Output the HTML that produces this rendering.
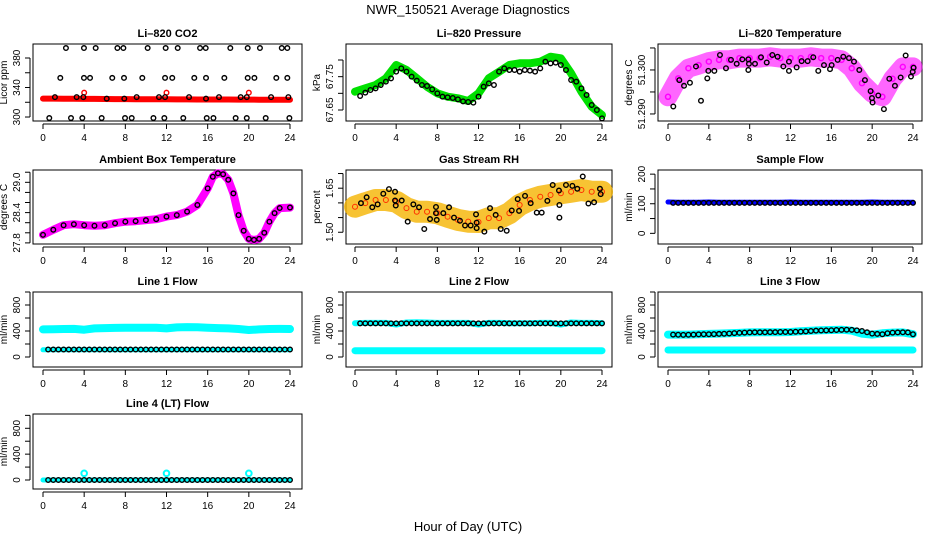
<!DOCTYPE html>
<html><head><meta charset="utf-8"><style>
html,body{margin:0;padding:0;background:#fff;}
svg{display:block;font-family:"Liberation Sans",Arial,sans-serif;}
</style></head><body>
<svg id="chart" width="936" height="540" viewBox="0 0 936 540" xmlns="http://www.w3.org/2000/svg">
<text x="468" y="14" text-anchor="middle" font-size="13">NWR_150521  Average Diagnostics</text>
<text x="468" y="531" text-anchor="middle" font-size="13">Hour of Day (UTC)</text>
</svg>
<script>
// ---------- data ----------
const xTicks = [0,4,8,12,16,20,24];
const hours25 = [0,1,2,3,4,5,6,7,8,9,10,11,12,13,14,15,16,17,18,19,20,21,22,23,24];
const halfHours = [0.5,1,1.5,2,2.5,3,3.5,4,4.5,5,5.5,6,6.5,7,7.5,8,8.5,9,9.5,10,10.5,11,11.5,12,12.5,13,13.5,14,14.5,15,15.5,16,16.5,17,17.5,18,18.5,19,19.5,20,20.5,21,21.5,22,22.5,23,23.5,24];

// CO2
const co2RedValues = [325,325,324.8,324.7,324.6,324.5,324.4,324.3,324.3,324.2,324.1,324,324,323.9,323.9,323.8,323.8,323.7,323.7,323.6,323.6,323.5,323.5,323.4,323.4];
const co2RedOutHours = [4,12,20];
const co2RedOutValues = [333,333,333];
const co2BlackHours = [2.23,3.98,5.12,7.23,7.81,10.17,11.92,13.09,15.26,15.81,18.2,19.89,21.08,23.2,23.74,
 1.68,3.98,4.57,6.73,7.87,9.65,11.86,12.56,14.7,15.84,17.62,19.89,20.54,22.67,23.74,
 1.16,3.27,3.92,6.19,7.9,9.1,11.27,11.86,14.19,15.84,17.1,19.21,19.8,22.16,23.84,
 0.61,2.72,3.82,5.7,7.97,8.62,10.73,11.79,13.63,15.91,16.56,18.72,19.8,21.64,23.94];
const co2BlackValues = [393.5,393.5,393.5,393.5,393.5,393.5,393.5,393.5,393.5,393.5,393.5,393.5,393.5,393.5,393.5,
 353,353,353,353,353,353,353,353,353,353,353,353,353,353,353,
 327,327,327,325,325,327,327,327,327,325,327,327,327,327,327,
 298.6,298.6,298.6,298.6,298.6,298.6,298.6,298.6,298.6,298.6,298.6,298.6,298.6,298.6,298.6];

// Pressure
const presGreenValues = [67.705,67.715,67.725,67.745,67.785,67.77,67.745,67.72,67.70,67.69,67.685,67.677,67.70,67.745,67.765,67.785,67.79,67.79,67.795,67.81,67.805,67.76,67.705,67.66,67.635];
const presBlackHours = [0.5,1,1.5,2,2.5,3,3.5,4,4.5,5,5.5,6,6.5,7,7.5,8,8.5,9,9.5,10,10.5,11,11.5,12,12.5,13,13.5,14,14.5,15,15.5,16,16.5,17,17.5,18,18.5,19,19.5,20,20.5,21,21.5,22,22.5,23,23.5,24];
const presBlackValues = [67.692,67.702,67.71,67.715,67.725,67.735,67.745,67.765,67.775,67.765,67.75,67.738,67.725,67.722,67.712,67.70,67.69,67.688,67.686,67.682,67.676,67.674,67.672,67.69,67.72,67.73,67.725,67.765,67.775,67.77,67.77,67.765,67.77,67.768,67.765,67.775,67.795,67.79,67.792,67.785,67.77,67.74,67.735,67.715,67.695,67.665,67.65,67.625];

// Li-820 temperature
const tempBandValues = [51.2939,51.2981,51.3004,51.3011,51.3019,51.3023,51.3023,51.3027,51.3027,51.3027,51.303,51.3027,51.3027,51.3027,51.303,51.3027,51.3027,51.3023,51.3004,51.297,51.2947,51.2939,51.298,51.3007,51.3007];
const tempBlackHours = [0.52,1.11,1.57,2.15,2.74,3.23,3.85,3.95,4.54,5.09,5.68,6.17,6.73,7.28,7.87,7.87,7.93,8.52,9.11,9.67,10.22,10.74,11.3,11.85,11.85,12.6,13.09,13.68,14.23,14.72,15.28,15.87,16.03,16.62,17.17,17.73,18.22,18.74,19.29,19.85,19.98,20.04,20.6,21.15,21.68,22.23,22.79,23.28,23.8,23.97,24.06];
const tempBlackValues = [51.2917,51.2977,51.2964,51.2971,51.3008,51.2930,51.2981,51.2998,51.2998,51.3034,51.3004,51.3023,51.3014,51.3024,51.3024,51.3000,51.3014,51.3014,51.3029,51.3017,51.3034,51.3030,51.3008,51.3019,51.2998,51.3006,51.3020,51.3020,51.3029,51.2998,51.3011,51.3002,51.3011,51.3023,51.3030,51.3027,51.3019,51.3000,51.2977,51.2952,51.2936,51.2926,51.2942,51.2911,51.2980,51.2964,51.2983,51.3033,51.2985,51.2996,51.3005];

// Ambient box temperature
const ambHours = [0,1,2,3,4,5,6,7,8,9,10,11,12,13,14,15,16,16.5,17,17.5,18,18.5,19,19.5,20,20.5,21,21.5,22,22.5,23,24];
const ambValues = [27.96,28.06,28.15,28.17,28.15,28.14,28.15,28.19,28.22,28.23,28.25,28.27,28.32,28.35,28.42,28.55,28.88,29.11,29.18,29.16,29.05,28.78,28.35,28.04,27.88,27.86,27.88,28.0,28.22,28.39,28.49,28.50];

// Gas stream RH
const rhBandValues = [1.587,1.599,1.61,1.61,1.604,1.582,1.57,1.57,1.565,1.553,1.542,1.536,1.535,1.548,1.548,1.565,1.593,1.61,1.621,1.627,1.633,1.638,1.644,1.638,1.638];
const rhBlackHours = [0.58,1.13,1.68,2.2,2.75,3.3,3.89,3.89,3.96,4.54,5.12,5.67,6.22,6.73,7.29,7.87,7.87,7.94,8.58,9.14,9.62,10.2,10.69,11.24,11.76,11.82,11.82,12.57,13.12,13.67,14.16,14.74,15.23,15.81,15.94,16.52,17.07,17.66,18.14,18.69,19.21,19.82,19.86,19.86,20.5,21.12,21.6,22.13,22.68,23.23,23.8,23.87];
const rhBlackValues = [1.599,1.619,1.585,1.595,1.631,1.647,1.638,1.608,1.591,1.608,1.536,1.595,1.585,1.511,1.545,1.586,1.565,1.542,1.565,1.585,1.55,1.539,1.523,1.523,1.561,1.533,1.514,1.502,1.582,1.559,1.511,1.505,1.574,1.613,1.573,1.624,1.599,1.567,1.567,1.607,1.661,1.642,1.593,1.55,1.661,1.658,1.648,1.69,1.598,1.602,1.648,1.63];

// Sample flow
const sampleBlueValues = [106,105,105,105,106,105,105,105,105,105,105,105,106,105,105,105,105,105,105,105,106,105,105,105,105];
const sampleBlackValues = [103,103,103,103,103,103,103,103,103,103,103,103,103,103,103,103,103,103,103,103,103,103,103,103,103,103,103,103,103,103,103,103,103,103,103,103,103,103,103,103,103,103,103,103,103,103,103,103];

// Line 1 flow
const line1CyanHiValues = [425,428,430,432,420,440,445,448,450,450,450,450,440,455,460,458,450,445,440,430,415,425,430,432,430];
const line1CyanLoValues = [110,110,110,110,110,110,110,110,110,110,110,110,110,110,110,110,110,110,110,110,110,110,110,110,110];
const line1BlackValues = [115,115,115,115,115,115,115,115,115,115,115,115,115,115,115,115,115,115,115,115,115,115,115,115,115,115,115,115,115,115,115,115,115,115,115,115,115,115,115,115,115,115,115,115,115,115,115,115];

// Line 2 flow
const line2CyanHiValues = [520,525,525,525,500,530,535,530,525,525,525,525,500,525,525,520,520,520,525,525,500,530,525,525,522];
const line2CyanLoValues = [97,97,97,97,97,97,97,97,97,97,97,97,97,97,97,97,97,97,97,97,97,97,97,97,97];
const line2BlackValues = [518,518,518,518,518,518,518,518,518,518,518,518,518,518,518,518,518,518,518,518,518,518,518,518,518,518,518,518,518,518,518,518,518,518,518,518,518,518,518,518,518,518,518,518,518,518,518,518];

// Line 3 flow
const line3CyanHiValues = [345,345,345,350,355,360,365,370,378,380,380,380,385,395,405,410,415,420,405,360,345,365,375,378,350];
const line3CyanLoValues = [108,108,108,108,108,108,108,108,108,108,108,108,108,108,108,108,108,108,108,108,108,108,108,108,108];
const line3BlackValues = [345,342,340,342,345,348,350,350,352,355,358,362,368,372,375,378,380,380,380,382,382,385,385,385,388,390,395,400,405,408,410,412,415,418,420,418,410,400,380,360,355,350,365,375,378,380,378,350];

// Line 4 flow
const line4CyanValues = [0,0,0,0,0,0,0,0,0,0,0,0,0,0,0,0,0,0,0,0,0,0,0,0,0];
const line4CyanOutHours = [4,12,20];
const line4CyanOutValues = [103,103,103];
const line4BlackValues = [0,0,0,0,0,0,0,0,0,0,0,0,0,0,0,0,0,0,0,0,0,0,0,0,0,0,0,0,0,0,0,0,0,0,0,0,0,0,0,0,0,0,0,0,0,0,0,0];

// ---------- drawing ----------
const NS = "http://www.w3.org/2000/svg";
const svg = document.getElementById('chart');
const COLS = [{l:33,r:302,x0:43,x24:290},{l:346,r:612,x0:355,x24:602},{l:658,r:922,x0:668,x24:913}];
const ROWS = [{t:44,b:121},{t:170,b:244},{t:292,b:367},{t:414,b:489}];

function mk(tag, attrs, parent){
  const e = document.createElementNS(NS, tag);
  for (const k in attrs) e.setAttribute(k, attrs[k]);
  (parent||svg).appendChild(e);
  return e;
}

function panel(cfg){
  const c = COLS[cfg.col], r = ROWS[cfg.row];
  const g = mk('g', {});
  
  
  const xs = t => c.x0 + t * (c.x24 - c.x0) / 24;
  const ys = v => r.b - (v - cfg.ymin) / (cfg.ymax - cfg.ymin) * (r.b - r.t);
  const title = mk('text', {x:(c.l+c.r)/2, y:r.t-7, 'text-anchor':'middle', 'font-size':11, 'font-weight':'bold'}, g);
  title.textContent = cfg.title;
  
  
  const box = mk('rect', {x:c.l, y:r.t, width:c.r-c.l, height:r.b-r.t, fill:'none', stroke:'#000', 'stroke-width':1}, g);
  
  
  const xg = mk('g', {}, g);
  
  
  mk('line', {x1:xs(0), x2:xs(24), y1:r.b+3, y2:r.b+3, stroke:'#000'}, xg);
  xTicks.forEach(t => {
    mk('line', {x1:xs(t), x2:xs(t), y1:r.b+3, y2:r.b+8, stroke:'#000'}, xg);
    const tx = mk('text', {x:xs(t), y:r.b+20, 'text-anchor':'middle', 'font-size':10}, xg);
    tx.textContent = t;
  });
  const yg = mk('g', {}, g);
  
  
  mk('line', {x1:c.l-3, x2:c.l-3, y1:ys(cfg.yticks[0]), y2:ys(cfg.yticks[cfg.yticks.length-1]), stroke:'#000'}, yg);
  cfg.yticks.forEach(v => mk('line', {x1:c.l-8, x2:c.l-3, y1:ys(v), y2:ys(v), stroke:'#000'}, yg));
  cfg.ylabels.forEach(v => {
    const lx = c.l - 13, ly = ys(v);
    const tx = mk('text', {x:lx, y:ly, 'text-anchor':'middle', 'font-size':10, transform:`rotate(-90 ${lx} ${ly})`}, yg);
    tx.textContent = cfg.fmt ? cfg.fmt(v) : v;
  });
  const yt = mk('text', {x:c.l-26, y:(r.t+r.b)/2, 'text-anchor':'middle', 'font-size':10, transform:`rotate(-90 ${c.l-26} ${(r.t+r.b)/2})`}, g);
  yt.textContent = cfg.ylab;
  
  
  return {g, xs, ys};
}

function band(p, hrs, vals, color, width, name, opacity){
  const pts = hrs.map((t,i) => p.xs(t).toFixed(1)+','+p.ys(vals[i]).toFixed(1)).join(' ');
  const pl = mk('polyline', {points:pts, fill:'none', stroke:color, 'stroke-width':width, 'stroke-linejoin':'round', 'stroke-linecap':'round', opacity:opacity||1}, p.g);
  
  
}
function dots(p, hrs, vals, color, name, rad, sw){
  const gg = mk('g', {}, p.g);
  
  
  hrs.forEach((t,i) => {
    mk('circle', {cx:p.xs(t), cy:p.ys(vals[i]), r:rad||2.3, fill:'none', stroke:color, 'stroke-width':sw||1.4}, gg);
  });
}

let p;
p = panel({col:0,row:0,name:'co2',title:'Li\u2013820 CO2',ylab:'Licor ppm',ymin:294.6,ymax:399,yticks:[300,320,340,360,380],ylabels:[300,340,380]});
band(p, hours25, co2RedValues, '#ff0000', 6, 'co2-red-series');
dots(p, co2RedOutHours, co2RedOutValues, '#ff0000', 'co2-red-outliers');
dots(p, co2BlackHours, co2BlackValues, '#000', 'co2-black-series');

p = panel({col:1,row:0,name:'pressure',title:'Li\u2013820 Pressure',ylab:'kPa',ymin:67.617,ymax:67.848,yticks:[67.65,67.70,67.75,67.80],ylabels:[67.65,67.75],fmt:v=>v.toFixed(2)});
band(p, hours25, presGreenValues, '#00e000', 8, 'pressure-green-series');
dots(p, presBlackHours, presBlackValues, '#000', 'pressure-black-series');

p = panel({col:2,row:0,name:'temperature',title:'Li\u2013820 Temperature',ylab:'degrees C',ymin:51.2884,ymax:51.3059,yticks:[51.290,51.295,51.300,51.305],ylabels:[51.290,51.300],fmt:v=>v.toFixed(3)});
band(p, hours25, tempBandValues, '#ff00ff', 19, 'temperature-magenta-series', 0.6);
dots(p, hours25, tempBandValues, '#ff00ff', 'temperature-magenta-points', 2.5, 1.5);
dots(p, tempBlackHours, tempBlackValues, '#000', 'temperature-black-series');

p = panel({col:0,row:1,name:'ambient',title:'Ambient Box Temperature',ylab:'degrees C',ymin:27.778,ymax:29.244,yticks:[27.8,28.0,28.2,28.4,28.6,28.8,29.0,29.2],ylabels:[27.8,28.4,29.0],fmt:v=>v.toFixed(1)});
band(p, ambHours, ambValues, '#ff00ff', 8, 'ambient-magenta-series');
dots(p, ambHours, ambValues, '#000', 'ambient-black-series');

p = panel({col:1,row:1,name:'rh',title:'Gas Stream RH',ylab:'percent',ymin:1.460,ymax:1.712,yticks:[1.50,1.55,1.60,1.65,1.70],ylabels:[1.50,1.65],fmt:v=>v.toFixed(2)});
band(p, hours25, rhBandValues, '#f5b400', 22, 'rh-orange-series', 0.8);
dots(p, hours25, rhBandValues, '#ff3000', 'rh-red-points', 2.5, 1);
dots(p, rhBlackHours, rhBlackValues, '#000', 'rh-black-series');

p = panel({col:2,row:1,name:'sample-flow',title:'Sample Flow',ylab:'ml/min',ymin:-36,ymax:214,yticks:[0,50,100,150,200],ylabels:[0,100,200]});
band(p, hours25, sampleBlueValues, '#0000ff', 5, 'sample-flow-blue-series');
dots(p, halfHours, sampleBlackValues, '#000', 'sample-flow-black-series');

p = panel({col:0,row:2,name:'line1-flow',title:'Line 1 Flow',ylab:'ml/min',ymin:-154,ymax:1000,yticks:[0,200,400,600,800,1000],ylabels:[0,400,800]});
band(p, hours25, line1CyanHiValues, '#00ffff', 8, 'line1-cyan-high-series');
band(p, hours25, line1CyanLoValues, '#00ffff', 5, 'line1-cyan-low-series');
dots(p, halfHours, line1BlackValues, '#000', 'line1-black-series');

p = panel({col:1,row:2,name:'line2-flow',title:'Line 2 Flow',ylab:'ml/min',ymin:-154,ymax:1000,yticks:[0,200,400,600,800,1000],ylabels:[0,400,800]});
band(p, hours25, line2CyanHiValues, '#00ffff', 6, 'line2-cyan-high-series');
band(p, hours25, line2CyanLoValues, '#00ffff', 7, 'line2-cyan-low-series');
dots(p, halfHours, line2BlackValues, '#000', 'line2-black-series');

p = panel({col:2,row:2,name:'line3-flow',title:'Line 3 Flow',ylab:'ml/min',ymin:-154,ymax:1000,yticks:[0,200,400,600,800,1000],ylabels:[0,400,800]});
band(p, hours25, line3CyanHiValues, '#00ffff', 8, 'line3-cyan-high-series');
band(p, hours25, line3CyanLoValues, '#00ffff', 7, 'line3-cyan-low-series');
dots(p, halfHours, line3BlackValues, '#000', 'line3-black-series');

p = panel({col:0,row:3,name:'line4-flow',title:'Line 4 (LT) Flow',ylab:'ml/min',ymin:-139,ymax:1021,yticks:[0,200,400,600,800,1000],ylabels:[0,400,800]});
band(p, hours25, line4CyanValues, '#00ffff', 5, 'line4-cyan-series');
dots(p, line4CyanOutHours, line4CyanOutValues, '#00ffff', 'line4-cyan-outliers', 2.8, 2);
dots(p, halfHours, line4BlackValues, '#000', 'line4-black-series');
</script>
</body></html>
